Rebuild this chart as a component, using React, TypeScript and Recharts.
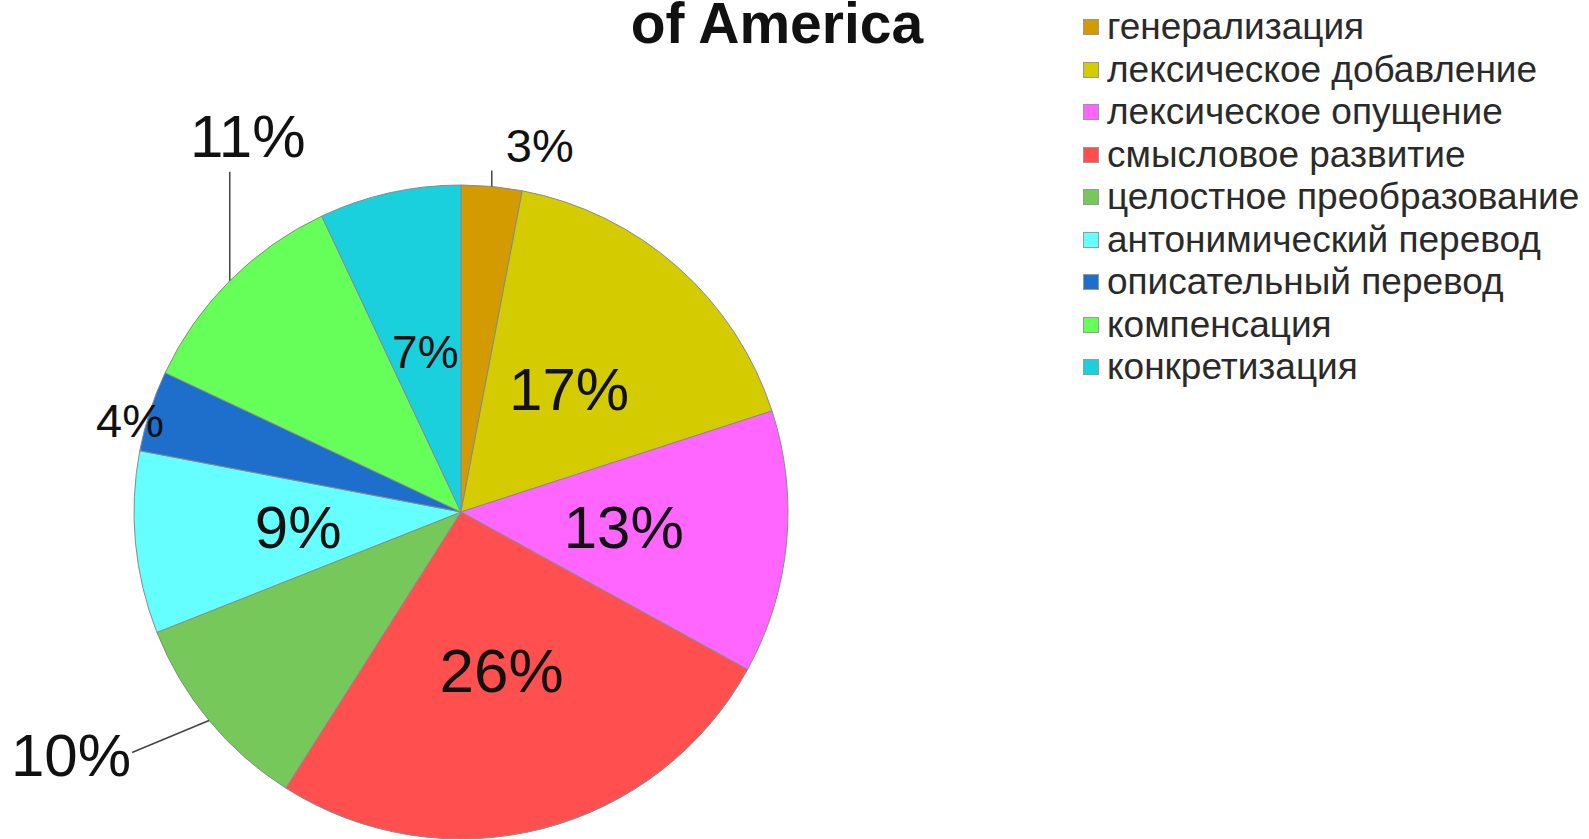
import { PieChart, Pie, Cell, Legend } from "recharts";

const CATEGORIES = [
  "генерализация",
  "лексическое добавление",
  "лексическое опущение",
  "смысловое развитие",
  "целостное преобразование",
  "антонимический перевод",
  "описательный перевод",
  "компенсация",
  "конкретизация",
];

const VALUES = [3, 17, 13, 26, 10, 9, 4, 11, 7];

const COLORS = [
  "#d39b00",
  "#d4cc00",
  "#ff66ff",
  "#ff4f4f",
  "#77c85a",
  "#66ffff",
  "#1e6fcc",
  "#66ff5a",
  "#1ad0dc",
];

const TITLE = "of America";

const DATA = CATEGORIES.map((name, i) => ({ name, value: VALUES[i] }));

const FONT = "'Liberation Sans', Arial, sans-serif";
const RADIAN = Math.PI / 180;

// how each percentage label sits: inside at half radius, or outside with a leader
const LABEL_LAYOUT = [
  { size: 47, outside: true, line: [0, -16], text: [48, -41] },
  { size: 60 },
  { size: 60 },
  { size: 62 },
  { size: 60, outside: true, line: [-77, 32], text: [-138, 35] },
  { size: 60 },
  { size: 47, outside: true, line: null, text: [-20, 10] },
  { size: 60, outside: true, line: [0, -109], text: [18, -144] },
  { size: 46 },
];

// eslint-disable-next-line @typescript-eslint/no-explicit-any
const renderLabel = (props: any) => {
  const { cx, cy, midAngle, outerRadius, index, value } = props;
  const cfg = LABEL_LAYOUT[index];
  const cos = Math.cos(-midAngle * RADIAN);
  const sin = Math.sin(-midAngle * RADIAN);

  if (!cfg.outside) {
    const r = outerRadius * 0.5;
    return (
      <text
        x={cx + r * cos}
        y={cy + r * sin}
        textAnchor="middle"
        dominantBaseline="central"
        fontSize={cfg.size}
        fontFamily={FONT}
        fill="#111"
      >
        {`${value}%`}
      </text>
    );
  }

  const px = cx + outerRadius * cos;
  const py = cy + outerRadius * sin;
  return (
    <g>
      {cfg.line && (
        <line
          x1={px}
          y1={py}
          x2={px + cfg.line[0]}
          y2={py + cfg.line[1]}
          stroke="#444"
          strokeWidth={1.5}
        />
      )}
      <text
        x={px + cfg.text![0]}
        y={py + cfg.text![1]}
        textAnchor="middle"
        dominantBaseline="central"
        fontSize={cfg.size}
        fontFamily={FONT}
        fill="#111"
      >
        {`${value}%`}
      </text>
    </g>
  );
};

const renderLegend = () => (
  <div style={{ fontFamily: FONT }}>
    {CATEGORIES.map((name, i) => (
      <div
        key={name}
        style={{ display: "flex", alignItems: "center", height: 42.5 }}
      >
        <div
          style={{
            width: 16,
            height: 16,
            backgroundColor: COLORS[i],
            border: "1px solid #999",
            boxSizing: "border-box",
            flexShrink: 0,
          }}
        />
        <span
          style={{
            fontSize: 37,
            color: "#2a2a2a",
            marginLeft: 8,
            whiteSpace: "nowrap",
          }}
        >
          {name}
        </span>
      </div>
    ))}
  </div>
);

export default function App() {
  return (
    <div
      style={{
        position: "absolute",
        left: 0,
        top: 0,
        width: 1589,
        height: 839,
        background: "#fff",
        overflow: "hidden",
      }}
    >
      <div
        style={{
          position: "absolute",
          left: 477,
          width: 600,
          top: 0,
          textAlign: "center",
          fontFamily: FONT,
          fontWeight: "bold",
          fontSize: 57,
          lineHeight: "46px",
          color: "#111",
        }}
      >
        {TITLE}
      </div>
      <PieChart
        width={1589}
        height={839}
        margin={{ top: 0, right: 0, bottom: 0, left: 0 }}
      >
        <Pie
          data={DATA}
          dataKey="value"
          nameKey="name"
          cx={461}
          cy={512}
          outerRadius={327}
          startAngle={90}
          endAngle={-270}
          stroke="#8a8a8a"
          strokeWidth={1}
          label={renderLabel}
          labelLine={false}
          isAnimationActive={false}
        >
          {DATA.map((_, i) => (
            <Cell key={i} fill={COLORS[i]} />
          ))}
        </Pie>
        <Legend
          layout="vertical"
          verticalAlign="top"
          align="right"
          content={renderLegend}
          wrapperStyle={{ position: "absolute", left: 1083, top: 6, width: 506 }}
        />
      </PieChart>
    </div>
  );
}
